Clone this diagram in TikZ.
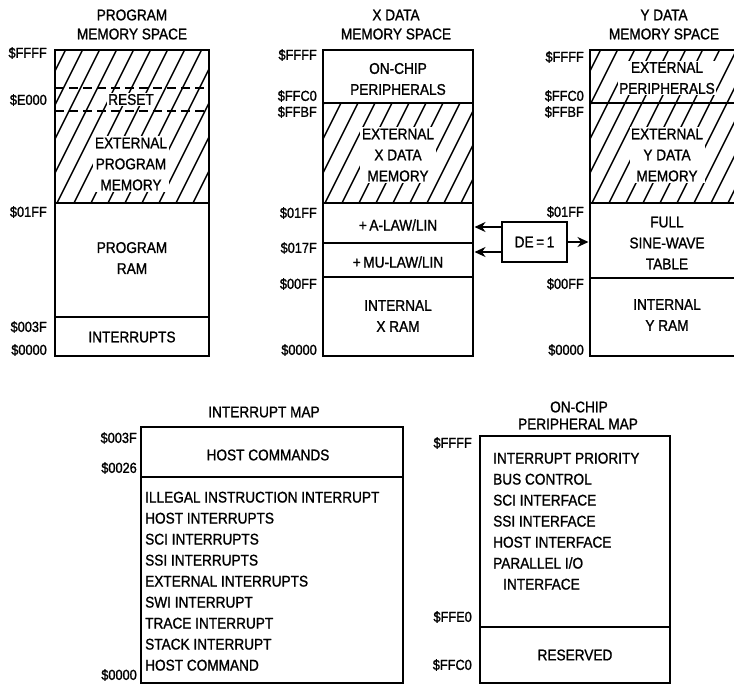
\documentclass[tikz,border=0pt]{standalone}
\usepackage{fontspec}
\setmainfont{Liberation Sans}[FakeStretch=0.88,FakeBold=1.2]
\usetikzlibrary{arrows.meta}
\newcommand\hatchrect[4]{%
  \begin{scope}
    \clip (#1,#2) rectangle (#3,#4);
    \foreach \k in {0,...,18}{\draw[hl] ({#1-100+17*\k},#4) -- ++(90,-180);}
  \end{scope}}
\begin{document}
\begin{tikzpicture}[x=1pt,y=-1pt,
  txt/.style={font=\fontsize{15.5}{21}\selectfont, inner sep=0pt, align=center},
  lbl/.style={txt, font=\fontsize{14.5}{18}\selectfont, anchor=east},
  wt/.style={txt, fill=white, inner sep=1.5pt},
  lst/.style={txt, anchor=north west, align=left},
  box/.style={line width=2.6pt},
  div/.style={line width=2.2pt},
  dsh/.style={line width=2pt, dash pattern=on 9pt off 5pt},
  hl/.style={line width=1.4pt},
  arr/.style={line width=2pt, -{Stealth[length=11pt,width=10pt]}}]
\useasboundingbox (0,0) rectangle (734,686);

% ---------------- PROGRAM MEMORY SPACE ----------------
\node[txt] (pt1) at (132,15) {PROGRAM};
\node[txt] (pt2) at (132,34) {MEMORY SPACE};
\hatchrect{55}{50}{209}{203}
\draw[dsh] (55,88) -- (209,88);
\draw[dsh] (55,111) -- (209,111);
\node[wt] (preset) at (131,99.5) {RESET};
\node[wt] (pext) at (131,164) {EXTERNAL\\PROGRAM\\MEMORY};
\node[txt] (pram) at (132,258) {PROGRAM\\RAM};
\node[txt] (pint) at (132,337) {INTERRUPTS};
\draw[div] (55,203) -- (209,203);
\draw[div] (55,317) -- (209,317);
\draw[box] (55,50) rectangle (209,356);
\node[lbl] (pl1) at (47,53) {\$FFFF};
\node[lbl] (pl2) at (47,100) {\$E000};
\node[lbl] (pl3) at (47,212) {\$01FF};
\node[lbl] (pl4) at (47,327) {\$003F};
\node[lbl] (pl5) at (47,350) {\$0000};

% ---------------- X DATA MEMORY SPACE ----------------
\node[txt] (xt1) at (396,15) {X DATA};
\node[txt] (xt2) at (396,34) {MEMORY SPACE};
\hatchrect{323}{103}{473}{203}
\node[txt] (xon) at (398,79) {ON-CHIP\\PERIPHERALS};
\node[wt] (xext) at (398,155) {EXTERNAL\\X DATA\\MEMORY};
\node[txt] (xa) at (398,225) {+\,A-LAW/LIN};
\node[txt] (xm) at (398,262) {+\,MU-LAW/LIN};
\node[txt] (xram) at (398,316) {INTERNAL\\X RAM};
\draw[div] (323,103) -- (473,103);
\draw[div] (323,203) -- (473,203);
\draw[div] (323,243) -- (473,243);
\draw[div] (323,277) -- (473,277);
\draw[box] (323,50) rectangle (473,356);
\node[lbl] (xl1) at (317,55) {\$FFFF};
\node[lbl] (xl2) at (317,96) {\$FFC0};
\node[lbl] (xl3) at (317,112) {\$FFBF};
\node[lbl] (xl4) at (317,213) {\$01FF};
\node[lbl] (xl5) at (317,248) {\$017F};
\node[lbl] (xl6) at (317,284) {\$00FF};
\node[lbl] (xl7) at (317,350) {\$0000};

% ---------------- Y DATA MEMORY SPACE ----------------
\node[txt] (yt1) at (664,15) {Y DATA};
\node[txt] (yt2) at (664,34) {MEMORY SPACE};
\hatchrect{590}{50}{740}{203}
\node[wt] (yper) at (667,78) {EXTERNAL\\PERIPHERALS};
\node[wt] (yext) at (667,155) {EXTERNAL\\Y DATA\\MEMORY};
\node[txt] (ysin) at (667,243) {FULL\\SINE-WAVE\\TABLE};
\node[txt] (yram) at (667,315) {INTERNAL\\Y RAM};
\draw[div] (590,103) -- (740,103);
\draw[div] (590,203) -- (740,203);
\draw[div] (590,278) -- (740,278);
\draw[box] (590,50) rectangle (740,356);
\node[lbl] (yl1) at (584,57) {\$FFFF};
\node[lbl] (yl2) at (584,96) {\$FFC0};
\node[lbl] (yl3) at (584,112) {\$FFBF};
\node[lbl] (yl4) at (584,212) {\$01FF};
\node[lbl] (yl5) at (584,284) {\$00FF};
\node[lbl] (yl6) at (584,350) {\$0000};

% ---------------- DE = 1 ----------------
\node[txt, draw, line width=2.2pt, minimum width=65pt, minimum height=40pt] (de) at (534.5,242) {DE\,=\,1};
\coordinate (xa1) at (474.5,227);
\coordinate (xa2) at (474.5,252);
\coordinate (ya) at (588.5,242);
\draw[arr] (de.west |- xa1) -- (xa1);
\draw[arr] (de.west |- xa2) -- (xa2);
\draw[arr] (de.east) -- (ya);

% ---------------- INTERRUPT MAP ----------------
\node[txt] (it) at (264,412) {INTERRUPT MAP};
\node[txt] (ihc) at (268,455) {HOST COMMANDS};
\node[lst] (ilist) at (145,491.5) {ILLEGAL INSTRUCTION INTERRUPT\\HOST INTERRUPTS\\SCI INTERRUPTS\\SSI INTERRUPTS\\EXTERNAL INTERRUPTS\\SWI INTERRUPT\\TRACE INTERRUPT\\STACK INTERRUPT\\HOST COMMAND};
\draw[div] (141,477) -- (403,477);
\draw[box] (141,427) rectangle (403,683);
\node[lbl] (il1) at (137,438) {\$003F};
\node[lbl] (il2) at (137,468) {\$0026};
\node[lbl] (il3) at (137,675) {\$0000};

% ---------------- ON-CHIP PERIPHERAL MAP ----------------
\node[txt] (ot1) at (579,407) {ON-CHIP};
\node[txt] (ot2) at (578,424) {PERIPHERAL MAP};
\node[lst] (olist) at (493,452.5) {INTERRUPT PRIORITY\\BUS CONTROL\\SCI INTERFACE\\SSI INTERFACE\\HOST INTERFACE\\PARALLEL I/O\\\hspace*{10pt}INTERFACE};
\node[txt] (ores) at (575,655) {RESERVED};
\draw[div] (480,627) -- (670,627);
\draw[box] (480,436) rectangle (670,683);
\node[lbl] (ol1) at (472,443) {\$FFFF};
\node[lbl] (ol2) at (472,617) {\$FFE0};
\node[lbl] (ol3) at (472,665) {\$FFC0};
\end{tikzpicture}
\end{document}
